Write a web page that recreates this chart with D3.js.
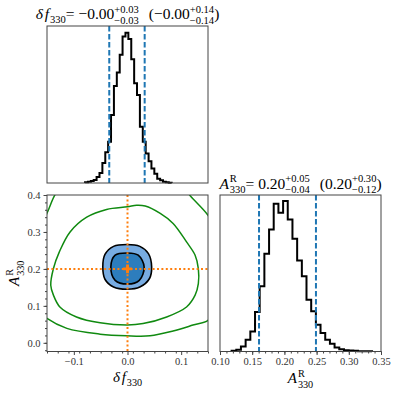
<!DOCTYPE html>
<html>
<head>
<meta charset="utf-8">
<script src="https://cdn.jsdelivr.net/npm/d3@7"></script>
<style>
  body { margin: 0; background: #fff; }
  svg { font-family: "Liberation Serif", "DejaVu Serif", serif; }
</style>
</head>
<body>
<div id="chart"></div>
<script>
// histogram of delta f_330 (bin edges and counts)
var fEdges = [-0.0791, -0.0737, -0.0683, -0.0630, -0.0576, -0.0522, -0.0468, -0.0414, -0.0361, -0.0307,
              -0.0253, -0.0199, -0.0145, -0.0092, -0.0038, 0.0016, 0.0070, 0.0124, 0.0177, 0.0231,
              0.0285, 0.0339, 0.0393, 0.0446, 0.0500, 0.0554, 0.0608, 0.0662, 0.0715, 0.0769, 0.0823];
var fCounts = [2, 4, 6, 9, 18, 30, 60, 92, 123, 203, 290, 330, 383, 438, 449,
               430, 370, 298, 263, 168, 123, 88, 65, 43, 28, 13, 8, 4, 2, 1];
var fQuant = [-0.034, 0.032];

// histogram of A^R_330
var aEdges = [0.1180, 0.1253, 0.1325, 0.1398, 0.1471, 0.1544, 0.1616, 0.1689, 0.1762, 0.1834,
              0.1907, 0.1980, 0.2052, 0.2125, 0.2198, 0.2271, 0.2343, 0.2416, 0.2489, 0.2561,
              0.2634, 0.2707, 0.2779, 0.2852, 0.2925, 0.2998, 0.3070, 0.3143, 0.3216, 0.3288, 0.3361];
var aCounts = [2, 5, 15, 35, 60, 118, 195, 292, 365, 442, 415, 450, 395, 337, 272,
               225, 155, 120, 80, 55, 35, 23, 12, 7, 4, 3, 2, 1, 1, 0.5];
var aQuant = [0.1606, 0.249];

var truth = [0.0, 0.2];

// 2D contours, [delta f, A] pairs
var blueOuter = [[-0.001, 0.266], [0.023, 0.261], [0.039, 0.2415], [0.045, 0.205], [0.041, 0.174], [0.023, 0.151],
                 [0, 0.145], [-0.026, 0.151], [-0.042, 0.172], [-0.046, 0.205], [-0.042, 0.239], [-0.026, 0.261]];
var blueInner = [[0, 0.243], [0.02, 0.237], [0.031, 0.205], [0.022, 0.169], [0, 0.159],
                 [-0.023, 0.169], [-0.031, 0.205], [-0.023, 0.237]];
var greenInner = [[-0.143, 0.156], [-0.138, 0.201], [-0.127, 0.246], [-0.107, 0.30], [-0.076, 0.34], [-0.039, 0.361],
                  [0.0, 0.368], [0.017, 0.372], [0.033, 0.370], [0.061, 0.35], [0.085, 0.323], [0.110, 0.273],
                  [0.126, 0.237], [0.132, 0.201], [0.132, 0.16], [0.126, 0.129], [0.11, 0.097], [0.073, 0.070],
                  [0.029, 0.052], [0.0, 0.048], [-0.051, 0.054], [-0.095, 0.070], [-0.126, 0.097], [-0.138, 0.129]];
var greenOuter = [[-0.185, 0.20], [-0.172, 0.30], [-0.152, 0.345], [-0.135, 0.401], [-0.11, 0.45], [0, 0.48],
                  [0.09, 0.45], [0.115, 0.401], [0.150, 0.345], [0.175, 0.28], [0.18, 0.18], [0.165, 0.09],
                  [0.15, 0.061], [0.122, 0.048], [0.085, 0.032], [0.042, 0.019], [-0.0015, 0.019],
                  [-0.051, 0.0235], [-0.113, 0.039], [-0.150, 0.066], [-0.175, 0.10]];

var fTicks = [-0.1, 0.0, 0.1];
var aTicksY = [0.0, 0.1, 0.2, 0.3, 0.4];
var aTicksX = [0.10, 0.15, 0.20, 0.25, 0.30, 0.35];

function init() {
    var w = 398, h = 395;
    var x1 = 47, x2 = 208, x3 = 220, x4 = 381;
    var y1 = 26, y2 = 183, y3 = 195, y4 = 351.5;
    var serif = "'Liberation Serif', 'DejaVu Serif', serif";

    var svg = d3.select("#chart").append("svg")
        .attr("width", w).attr("height", h);

    var xF = d3.scaleLinear().domain([-0.15, 0.15]).range([x1, x2]);
    var yA = d3.scaleLinear().domain([-0.0235, 0.4]).range([y4, y3]);
    var xA = d3.scaleLinear().domain([0.10, 0.35]).range([x3, x4]);
    var yF = d3.scaleLinear().domain([0, d3.max(fCounts) * 1.045]).range([y2, y1]);
    var yH = d3.scaleLinear().domain([0, d3.max(aCounts) * 1.04]).range([y4, y3]);

    var stepLine = d3.line().x(function(d) { return d[0]; }).y(function(d) { return d[1]; });

    function histPts(edges, counts, xs, ys) {
        var pts = [[xs(edges[0]), ys(0)]];
        counts.forEach(function(c, i) {
            pts.push([xs(edges[i]), ys(c)]);
            pts.push([xs(edges[i + 1]), ys(c)]);
        });
        pts.push([xs(edges[edges.length - 1]), ys(0)]);
        return pts;
    }

    // writes a bit of math as pieces, returns the width
    function mathText(g, pieces, size) {
        var x = 0;
        pieces.forEach(function(p) {
            if (p.gap) { x += p.gap; return; }
            if (p.t) {
                var t = g.append("text").attr("x", x).attr("y", 0)
                    .attr("font-size", size)
                    .attr("font-style", p.it ? "italic" : "normal")
                    .text(p.t);
                x += t.node().getComputedTextLength() + (p.it ? size * 0.06 : 0);
            }
            if (p.sup || p.sub) {
                var s = size * 0.68, wd = 0, both = p.sup && p.sub;
                if (p.sup) {
                    var ts = g.append("text").attr("x", x).attr("y", -size * 0.42)
                        .attr("font-size", s).text(p.sup);
                    wd = Math.max(wd, ts.node().getComputedTextLength());
                }
                if (p.sub) {
                    var tb = g.append("text").attr("x", x).attr("y", size * (both ? 0.3 : 0.25))
                        .attr("font-size", s).text(p.sub);
                    wd = Math.max(wd, tb.node().getComputedTextLength());
                }
                x += wd;
            }
        });
        return x;
    }

    function centered(g, pieces, size, cx, cy, rot) {
        var inner = g.append("g");
        var wd = mathText(inner, pieces, size);
        inner.attr("transform", "translate(" + (-wd / 2) + ",0)");
        g.attr("transform", "translate(" + cx + "," + cy + ")" + (rot ? " rotate(" + rot + ")" : ""));
    }

    var fLabel = [{t: "δ", it: true}, {gap: 1}, {t: "f", it: true}, {sub: "330"}];
    var aLabel = [{t: "A", it: true}, {sup: "R", sub: "330"}];

    // ---------- top: delta f histogram ----------
    svg.append("path")
        .attr("d", stepLine(histPts(fEdges, fCounts, xF, yF)))
        .attr("fill", "none").attr("stroke", "#000").attr("stroke-width", 2)
        .attr("stroke-linejoin", "miter");

    svg.selectAll(".fq").data(fQuant).enter().append("line")
        .attr("x1", function(d) { return xF(d); }).attr("x2", function(d) { return xF(d); })
        .attr("y1", y1).attr("y2", y2)
        .attr("stroke", "#1f77b4").attr("stroke-width", 2).attr("stroke-dasharray", "5.5,2.5");

    svg.append("rect").attr("x", x1).attr("y", y1).attr("width", x2 - x1).attr("height", y2 - y1)
        .attr("fill", "none").attr("stroke", "#444").attr("stroke-width", 1);

    centered(svg.append("g"), fLabel.concat([{t: "= −0.00"}, {sup: "+0.03", sub: "−0.03"}, {gap: 10},
        {t: "(−0.00"}, {sup: "+0.14", sub: "−0.14"}, {t: ")"}]), 15.5, (x1 + x2) / 2, 19);

    // ---------- bottom left: 2D contours ----------
    svg.append("clipPath").attr("id", "clip2d").append("rect")
        .attr("x", x1).attr("y", y3).attr("width", x2 - x1).attr("height", y4 - y3);
    var g2 = svg.append("g").attr("clip-path", "url(#clip2d)");

    var contour = d3.line()
        .x(function(d) { return xF(d[0]); })
        .y(function(d) { return yA(d[1]); })
        .curve(d3.curveCatmullRomClosed);

    g2.append("path").attr("d", contour(blueOuter)).attr("fill", "#78ace2");
    g2.append("path").attr("d", contour(blueInner)).attr("fill", "#2d7dbd");
    [blueOuter, blueInner].forEach(function(c) {
        g2.append("path").attr("d", contour(c)).attr("fill", "none")
            .attr("stroke", "#000").attr("stroke-width", 1.6);
    });
    [greenInner, greenOuter].forEach(function(c) {
        g2.append("path").attr("d", contour(c)).attr("fill", "none")
            .attr("stroke", "#108a10").attr("stroke-width", 1.5);
    });

    g2.append("line").attr("x1", xF(truth[0])).attr("x2", xF(truth[0]))
        .attr("y1", y3).attr("y2", y4)
        .attr("stroke", "#ff7f0e").attr("stroke-width", 2).attr("stroke-dasharray", "2,2.4");
    g2.append("line").attr("x1", x1).attr("x2", x2)
        .attr("y1", yA(truth[1])).attr("y2", yA(truth[1]))
        .attr("stroke", "#ff7f0e").attr("stroke-width", 2).attr("stroke-dasharray", "2,2.4");
    g2.append("path").attr("d", d3.symbol(d3.symbolCross, 42)())
        .attr("transform", "translate(" + xF(truth[0]) + "," + yA(truth[1]) + ")")
        .attr("fill", "#ff7f0e");

    svg.append("rect").attr("x", x1).attr("y", y3).attr("width", x2 - x1).attr("height", y4 - y3)
        .attr("fill", "none").attr("stroke", "#444").attr("stroke-width", 1);

    var fmt1 = d3.format(".1f"), fmt2 = d3.format(".2f");

    function axis(gen, ticks, fmt, minor, tr) {
        var gm = svg.append("g").attr("transform", tr)
            .call(gen.tickValues(minor).tickSize(2).tickFormat(""));
        gm.select(".domain").remove();
        gm.selectAll("line").attr("stroke", "#444");
        var ga = svg.append("g").attr("transform", tr)
            .call(gen.tickValues(ticks).tickSize(3.5).tickPadding(3).tickFormat(fmt));
        ga.select(".domain").remove();
        ga.selectAll("line").attr("stroke", "#444");
        ga.selectAll("text")
            .style("font-family", serif)
            .style("font-size", "10.5px")
            .attr("fill", "#333");
    }

    axis(d3.axisBottom(xF), fTicks, fmt1, d3.range(-15, 16, 2).map(function(v) { return v / 100; })
            .filter(function(v) { return v >= -0.15 && v <= 0.15; }),
        "translate(0," + y4 + ")");
    axis(d3.axisLeft(yA), aTicksY, fmt1, d3.range(-2, 41, 2).map(function(v) { return v / 100; })
            .filter(function(v) { return v >= -0.0235 && v <= 0.4; }),
        "translate(" + x1 + ",0)");

    centered(svg.append("g"), fLabel, 15, (x1 + x2) / 2, 382);
    centered(svg.append("g"), aLabel, 15, 19, (y3 + y4) / 2, -90);

    // ---------- bottom right: A histogram ----------
    svg.append("path")
        .attr("d", stepLine(histPts(aEdges, aCounts, xA, yH)))
        .attr("fill", "none").attr("stroke", "#000").attr("stroke-width", 2);

    svg.selectAll(".aq").data(aQuant).enter().append("line")
        .attr("x1", function(d) { return xA(d); }).attr("x2", function(d) { return xA(d); })
        .attr("y1", y3).attr("y2", y4)
        .attr("stroke", "#1f77b4").attr("stroke-width", 2).attr("stroke-dasharray", "5.5,2.5");

    svg.append("rect").attr("x", x3).attr("y", y3).attr("width", x4 - x3).attr("height", y4 - y3)
        .attr("fill", "none").attr("stroke", "#444").attr("stroke-width", 1);

    axis(d3.axisBottom(xA), aTicksX, fmt2, d3.range(10, 36, 1).map(function(v) { return v / 100; }),
        "translate(0," + y4 + ")");

    centered(svg.append("g"), aLabel, 15, (x3 + x4) / 2, 383);
    centered(svg.append("g"), aLabel.concat([{t: "= 0.20"}, {sup: "+0.05", sub: "−0.04"}, {gap: 10},
        {t: "(0.20"}, {sup: "+0.30", sub: "−0.12"}, {t: ")"}]), 15.5, (x3 + x4) / 2, 188.5);
}
window.onload = init;
</script>
</body>
</html>
